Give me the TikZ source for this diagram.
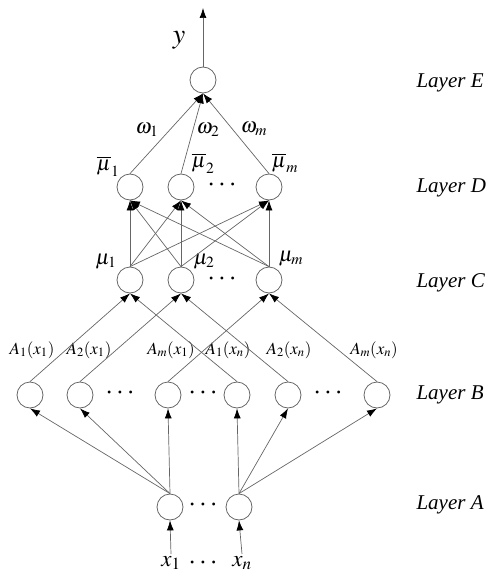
\documentclass[tikz,border=0pt]{standalone}
\usepackage{mathptmx}
\usepackage[no-math]{fontspec}
\setmainfont{Liberation Serif}
\usetikzlibrary{arrows.meta}

\begin{document}
\begin{tikzpicture}[x=1pt, y=-1pt,
  neuron/.style={circle, draw=black!60, line width=0.8pt, minimum size=26pt, inner sep=0pt},
  link/.style={draw=black!60, line width=0.7pt, -{Latex[length=10pt,width=7pt,color=black]}},
  layer/.style={font=\fontsize{21}{24}\selectfont\itshape, anchor=west},
  lab/.style={font=\fontsize{21}{24}\selectfont, inner sep=1pt},
  small/.style={font=\fontsize{17}{20}\selectfont, inner sep=1pt},
  dots/.style={font=\fontsize{28}{30}\selectfont\bfseries, inner sep=0pt}]
  \useasboundingbox (0,0) rectangle (488,575);

  % layer E
  \node[neuron] (e) at (203,80) {};
  \coordinate (out) at (203,8);
  \node[font=\fontsize{28}{30}\selectfont] (ylab) at (179,40) {$y$};

  % layer D
  \node[neuron] (d1) at (130,187) {};
  \node[neuron] (d2) at (181,187) {};
  \node[neuron] (dm) at (269,187) {};
  \node[dots] (ddots) at (222,185) {$\cdots$};
  \node[lab] (ld1) at (108,166) {$\overline{\mu}_1$};
  \node[lab] (ld2) at (203,163) {$\overline{\mu}_2$};
  \node[lab] (ldm) at (285,163) {$\overline{\mu}_m$};
  \node[lab] (w1) at (147,130) {$\omega_1$};
  \node[lab] (w2) at (208,130) {$\omega_2$};
  \node[lab] (wm) at (254,129) {$\omega_m$};

  % layer C
  \node[neuron] (c1) at (130,280) {};
  \node[neuron] (c2) at (181,280) {};
  \node[neuron] (cm) at (269,280) {};
  \node[dots] (cdots) at (222,279) {$\cdots$};
  \node[lab] (lc1) at (106,262) {$\mu_1$};
  \node[lab] (lc2) at (204,262) {$\mu_2$};
  \node[lab] (lcm) at (291,259) {$\mu_m$};

  % layer B
  \node[neuron] (b1) at (30,395) {};
  \node[neuron] (b2) at (80,395) {};
  \node[neuron] (b3) at (168,395) {};
  \node[neuron] (b4) at (237,395) {};
  \node[neuron] (b5) at (288,395) {};
  \node[neuron] (b6) at (377,395) {};
  \node[dots] at (120,393) {$\cdots$};
  \node[dots] at (203,393) {$\cdots$};
  \node[dots] at (328,393) {$\cdots$};
  \node[small] at (32,350) {$A_1(x_1)$};
  \node[small] at (89,350) {$A_2(x_1)$};
  \node[small] at (171,350) {$A_m(x_1)$};
  \node[small] at (228,350) {$A_1(x_n)$};
  \node[small] at (289,350) {$A_2(x_n)$};
  \node[small] at (374,350) {$A_m(x_n)$};

  % layer A
  \node[neuron] (a1) at (170,507) {};
  \node[neuron] (a2) at (239,507) {};
  \node[dots] at (203,505) {$\cdots$};
  \node[font=\fontsize{23}{26}\selectfont, inner sep=2pt] (x1) at (171,563) {$x_1$};
  \node[font=\fontsize{23}{26}\selectfont, inner sep=2pt] (xn) at (242,563) {$x_n$};
  \node[dots] at (203,563) {$\cdots$};

  % layer names
  \node[layer] at (413,83) {Layer E};
  \node[layer] at (413,188) {Layer D};
  \node[layer] at (413,283) {Layer C};
  \node[layer] at (413,395) {Layer B};
  \node[layer] at (413,505) {Layer A};

  % connections
  \draw[link] (x1.north) -- (a1.south);
  \draw[link] (xn.north) -- (a2.south);
  \foreach \b in {b1,b2,b3} \draw[link] (a1.north) -- (\b.south);
  \foreach \b in {b4,b5,b6} \draw[link] (a2.north) -- (\b.south);
  \draw[link] (b1.north) -- (c1.south);
  \draw[link] (b4.north) -- (c1.south);
  \draw[link] (b2.north) -- (c2.south);
  \draw[link] (b5.north) -- (c2.south);
  \draw[link] (b3.north) -- (cm.south);
  \draw[link] (b6.north) -- (cm.south);
  \foreach \c in {c1,c2,cm}
    \foreach \d in {d1,d2,dm}
      \draw[link] (\c.north) -- (\d.south);
  \foreach \d in {d1,d2,dm} \draw[link] (\d.north) -- (e.south);
  \draw[link] (e.north) -- (out);
\end{tikzpicture}
\end{document}
